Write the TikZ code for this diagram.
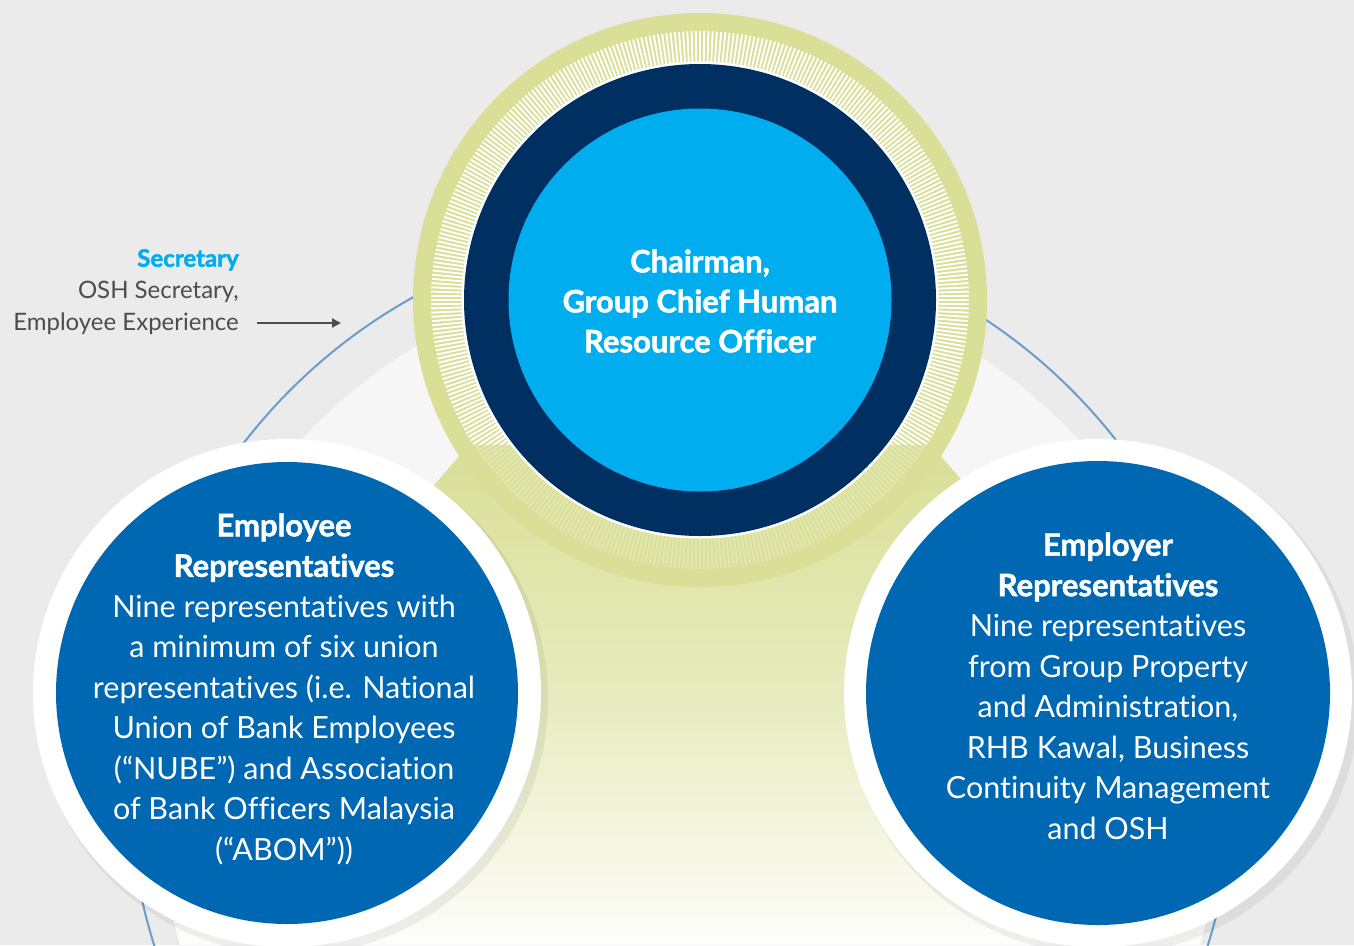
\documentclass[tikz,border=0pt]{standalone}
\usepackage{fontspec}
\setmainfont{Lato}[Ligatures={NoCommon,TeX}, BoldFeatures={FakeBold=1.6}]
\usetikzlibrary{arrows.meta}
\definecolor{bgc}{HTML}{EBEBEB}
\definecolor{lightc}{HTML}{F6F6F6}
\definecolor{ringline}{HTML}{6A9DCB}
\definecolor{glowc}{HTML}{D9DF97}
\definecolor{navyc}{HTML}{003061}
\definecolor{cyanc}{HTML}{00AEEF}
\definecolor{bluec}{HTML}{0068B3}
\definecolor{secc}{HTML}{00AEEF}
\definecolor{greytext}{HTML}{4D4D4D}
\tikzset{
  bodytext/.style={text=white, align=center, font=\fontsize{30.5}{40.5}\selectfont},
  titletext/.style={text=white, align=center, font=\bfseries\fontsize{31}{40}\selectfont},
  sectext/.style={text=greytext, align=right, anchor=east, inner sep=0pt, font=\fontsize{24}{32}\selectfont},
  arrowline/.style={draw=greytext, line width=2pt, -{Triangle[length=9pt,width=9pt]}}
}
\begin{document}
\begin{tikzpicture}[x=1pt,y=-1pt]
\fill[bgc] (0,0) rectangle (1354,945);
\useasboundingbox (0,0) rectangle (1354,945);
\begin{scope}
\clip (0,0) rectangle (1354,945);
% light inner disc
\fill[lightc] (690,800) circle (530pt);
% glow cone
\begin{scope}
\clip (690,800) circle (530pt);
\clip (490,420) -- (40,945) -- (1360,945) -- (910,420) -- cycle;
\shade[top color=glowc, bottom color=white!96!glowc, middle color=glowc!62!white] (0,450) rectangle (1354,945);
\fill[glowc] (0,420) rectangle (1354,451);
\end{scope}
% big thin circle
\draw[ringline, line width=2pt] (681,780) circle (552pt);
% top circle
\fill[glowc] (700,300) circle (287pt);
\foreach \a in {0,0.9,...,359.5}
  \draw[white, line width=1.9pt] (700,300) ++(\a:238pt) -- ++(\a:31pt);
\begin{scope}
\clip (0,445) rectangle (1354,945);
\fill[glowc, opacity=0.75, even odd rule] (700,300) circle (270pt) (700,300) circle (238pt);
\end{scope}
\fill[white] (700,300) circle (238.5pt);
\fill[navyc] (700,300) circle (236pt);
\fill[cyanc] (700,300) circle (191.5pt);
% side circles with shadow
\fill[black, opacity=0.06] (292,699) circle (256pt);
\fill[black, opacity=0.06] (1103,699) circle (256pt);
\fill[white] (287,693) circle (254pt);
\fill[bluec] (287,693) circle (231pt);
\fill[white] (1098,693) circle (254pt);
\fill[bluec] (1098,693) circle (232pt);
\end{scope}
% texts
\node[titletext] (chair) at (700,301) {Chairman,\\Group Chief Human\\Resource Officer};
\node[bodytext] (emp) at (284,689) {{\bfseries\fontsize{31}{40}\selectfont Employee}\\{\bfseries\fontsize{31}{40}\selectfont Representatives}\\Nine representatives with\\a minimum of six union\\representatives (i.e. National\\Union of Bank Employees\\(“NUBE”) and Association\\of Bank Officers Malaysia\\(“ABOM”))};
\node[bodytext] (emr) at (1108,686) {{\bfseries\fontsize{31}{40}\selectfont Employer}\\{\bfseries\fontsize{31}{40}\selectfont Representatives}\\Nine representatives\\from Group Property\\and Administration,\\RHB Kawal, Business\\Continuity Management\\and OSH};
\node[sectext] (sec) at (239,292) {{\bfseries\color{secc}Secretary}\\OSH Secretary,\\Employee Experience};
\coordinate (arrs) at (257,323);
\coordinate (arre) at (341,323);
\draw[arrowline] (arrs) -- (arre);
\end{tikzpicture}
\end{document}
